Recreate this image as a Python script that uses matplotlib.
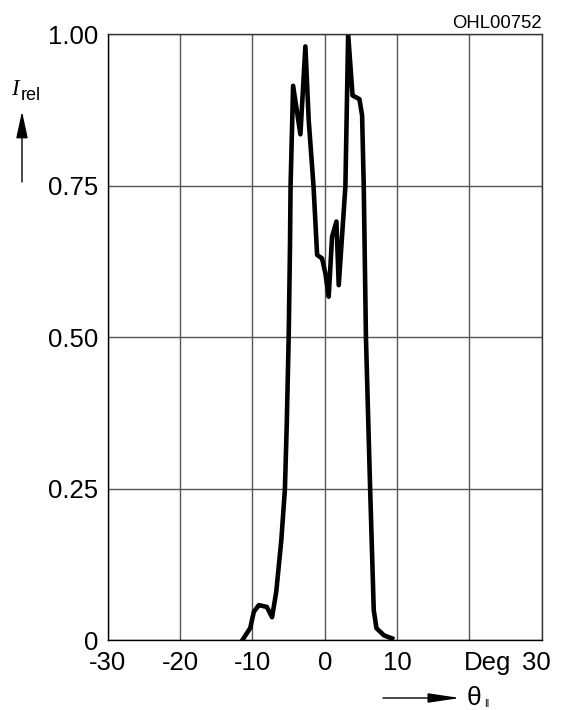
import matplotlib
matplotlib.use("Agg")
import matplotlib.pyplot as plt
from matplotlib.patches import FancyArrowPatch
from matplotlib.transforms import ScaledTranslation

# data
angle = [-11.4, -10.3, -9.8, -9.1, -8.0, -7.28, -6.7, -6.0, -5.5, -5.25, -4.98,
         -4.8, -4.72, -4.37, -3.36, -2.67, -2.21, -1.55, -1.05, -0.36, 0.1, 0.55,
         1.02, 1.62, 1.94, 2.86, 3.24, 3.85, 4.8, 5.17, 5.4, 5.7, 6.28,
         6.78, 7.15, 8.2, 9.32]
intensity = [0.0, 0.02, 0.047, 0.058, 0.055, 0.038, 0.08, 0.165, 0.25, 0.355, 0.5,
             0.65, 0.75, 0.915, 0.835, 0.98, 0.858, 0.75, 0.636, 0.63, 0.605, 0.567,
             0.666, 0.691, 0.586, 0.749, 1.0, 0.899, 0.893, 0.866, 0.748, 0.5, 0.25,
             0.05, 0.02, 0.008, 0.003]
xticks = [-30, -20, -10, 0, 10, 20, 30]
xticklabels = ["-30", "-20", "-10", "0", "10", "", "30"]
yticks = [0, 0.25, 0.5, 0.75, 1.0]
yticklabels = ["0", "0.25", "0.50", "0.75", "1.00"]

plt.rcParams['font.family'] = ['Liberation Sans', 'DejaVu Sans']

fig = plt.figure(figsize=(5.61, 7.10), dpi=100)
ax = fig.add_axes([0.192, 0.0982, 0.9656 - 0.192, 0.9517 - 0.0982])

ax.plot(angle, intensity, color='black', linewidth=3.3, solid_joinstyle='round')
ax.set_xlim(-30, 30)
ax.set_ylim(0, 1.0)
ax.set_xticks(xticks)
ax.set_xticklabels(xticklabels)
ax.set_yticks(yticks)
ax.set_yticklabels(yticklabels)
ax.tick_params(length=0, labelsize=18.5, colors='black')
ax.tick_params(axis='x', pad=8)
ax.tick_params(axis='y', pad=7)
ax.grid(True, color='#555555', linewidth=1.0)
for s in ax.spines.values():
    s.set_color('#333333')
    s.set_linewidth(1.0)
ax.spines['left'].set_color('black')
ax.spines['bottom'].set_color('black')

# shift the "30" label slightly left, like the reference
lbl30 = ax.get_xticklabels()[-1]
lbl30.set_transform(lbl30.get_transform() + ScaledTranslation(-5 / 100, 0, fig.dpi_scale_trans))

ax.annotate("Deg", xy=(22.46, 0), xycoords=('data', 'axes fraction'),
            xytext=(0, -8), textcoords='offset points',
            ha='center', va='top', fontsize=18.5)

# top-right code
fig.text(0.9656, 1 - 24 / 710, "OHL00752", ha='right', va='center', fontsize=13.3)

# y label with arrow
fig.text(15 / 561, 1 - 95 / 710, "I", ha='center', va='baseline', fontsize=16.5,
         family='Liberation Serif', style='italic')
fig.text(21 / 561, 1 - 100 / 710, "rel", ha='left', va='baseline', fontsize=13)
fig.add_artist(FancyArrowPatch(
    (22 / 561, 1 - 182 / 710), (22 / 561, 1 - 111.5 / 710),
    transform=fig.transFigure, arrowstyle='-|>,head_length=16.5,head_width=3.6',
    color='black', linewidth=1.0, mutation_scale=1, shrinkA=0, shrinkB=0))

# x label with arrow
fig.add_artist(FancyArrowPatch(
    (383 / 561, 1 - 698 / 710), (460 / 561, 1 - 698 / 710),
    transform=fig.transFigure, arrowstyle='-|>,head_length=19.5,head_width=2.9',
    color='black', linewidth=1.0, mutation_scale=1, shrinkA=0, shrinkB=0))
fig.text(467 / 561, 1 - 698 / 710, "θ", ha='left', va='center', fontsize=19)
fig.text(484.5 / 561, 1 - 704 / 710, "II", ha='left', va='center', fontsize=7)

fig.savefig("out.png", dpi=100)
